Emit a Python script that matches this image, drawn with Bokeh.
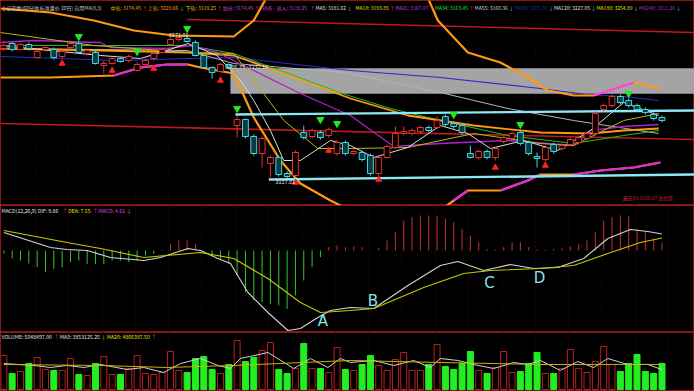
from bokeh.plotting import figure
from bokeh.layouts import column
from bokeh.models import Range1d, Label, ColumnDataSource, Span
from bokeh.embed import file_html
from bokeh.resources import INLINE
from bokeh.core.properties import value

FONT = "Noto Sans CJK SC"

# ---------------- price data (60-minute candles) ----------------
idx = list(range(80))
open_ = [3252,3257,3251,3256,3243,3251,3251,3244,3253,3257, 3247,3248,3235,3237,3242,3240,3230,3236,3242,3248,
         3256,3261,3262,3258,3245,3233,3229,3236,3175,3181, 3164,3147,3137,3143,3127,3125,3168,3164,3168,3165,
         3147,3158,3147,3148,3145,3127,3143,3153,3167,3167, 3169,3173,3173,3184,3177,3175,3147,3143,3149,3143,
         3159,3162,3168,3158,3144,3141,3156,3152,3156,3158, 3162,3167,3191,3195,3204,3200,3195,3191,3186,3183]
high = [3257,3258,3257,3258,3251,3255,3253,3251,3259,3259, 3251,3250,3240,3244,3243,3246,3238,3242,3249,3252,
        3263,3265,3265,3260,3246,3234,3238,3237,3184,3182, 3166,3164,3145,3144,3129,3150,3175,3172,3170,3173,
        3160,3160,3151,3150,3147,3145,3156,3174,3174,3172, 3175,3175,3184,3186,3179,3177,3155,3151,3151,3154,
        3165,3169,3170,3160,3148,3155,3158,3157,3163,3165, 3169,3189,3197,3206,3206,3202,3197,3193,3188,3185]
low = [3250,3249,3250,3250,3242,3249,3241,3242,3251,3247, 3245,3236,3227,3236,3238,3238,3229,3234,3240,3247,
       3255,3259,3258,3244,3232,3222,3228,3231,3163,3162, 3145,3133,3123,3124,3122,3123,3161,3162,3161,3163,
       3145,3145,3145,3139,3125,3124,3142,3152,3165,3165, 3167,3168,3171,3174,3172,3166,3142,3141,3141,3140,
       3157,3160,3155,3145,3133,3139,3147,3150,3154,3156, 3160,3165,3189,3193,3196,3193,3189,3186,3180,3178]
close = [3255,3251,3256,3252,3249,3253,3243,3249,3257,3248, 3250,3237,3237,3242,3239,3244,3236,3240,3247,3251,
         3261,3263,3259,3245,3233,3228,3236,3233,3181,3164, 3147,3162,3143,3126,3124,3148,3163,3170,3163,3171,
         3158,3147,3149,3141,3127,3143,3154,3167,3169,3170, 3173,3170,3180,3176,3174,3168,3143,3149,3143,3152,
         3163,3167,3157,3147,3142,3153,3149,3155,3161,3163, 3167,3187,3195,3204,3198,3195,3191,3188,3182,3180]

# Bands (at sample bars)
band_up_x = [-0.4, 5.6, 10.8, 15.6, 20.4, 27.6, 30.0, 32.0, 36.0, 48.0, 50.5, 52.1, 55.7, 59.6, 62.9, 65.3, 68.4, 70.8, 75.6, 78.8]
band_up = [3292, 3288, 3280, 3270, 3265, 3264, 3280, 3310, 3340, 3330, 3310, 3280, 3248, 3238, 3223, 3210, 3205, 3205, 3218, 3212]
band_dn_x = [-0.4, 5.6, 13.2, 16.4, 19.6, 22.1, 23.6, 27.6, 30.0, 33.2, 35.6, 39.2, 41.6, 47.5, 52.4, 54.0, 55.7, 59.6, 62.9, 64.4, 68.4, 71.6, 75.6, 78.8]
band_dn = [3223, 3223, 3225, 3233, 3236, 3236, 3233, 3227, 3183, 3140, 3117, 3100, 3090, 3075, 3090, 3100, 3110, 3110, 3120, 3126, 3126, 3130, 3133, 3138]
band_mid_x = [-0.4, 3.6, 11.6, 12.8, 19.6, 22.4, 25.6, 35.6, 41.6, 46.8, 52.4, 60.5, 68.4, 70.4, 74.4, 78.6]
band_mid = [3258, 3260, 3258, 3253, 3252, 3255, 3248, 3207, 3185, 3154, 3157, 3160, 3155, 3170, 3174, 3176]

# moving averages (sampled)
ma5_x = [-0.4, 5.6, 11.6, 16.4, 18.8, 22.1, 25.6, 28.4, 30.0, 32.0, 33.6, 35.6, 39.2, 41.6, 44.4, 48.5, 52.4, 55.7, 58.4, 62.4, 66.5, 70.4, 74.4, 78.6]
ma5 = [3255, 3250, 3245, 3242, 3248, 3257, 3245, 3220, 3200, 3170, 3140, 3140, 3160, 3155, 3143, 3153, 3175, 3167, 3152, 3160, 3150, 3170, 3198, 3185]
ma10_x = [-0.4, 10.8, 22.1, 27.6, 33.6, 37.7, 41.6, 48.5, 56.4, 64.4, 68.4, 74.4, 78.6]
ma10 = [3268, 3255, 3248, 3247, 3180, 3152, 3152, 3153, 3167, 3157, 3155, 3180, 3187]
ma21_x = [-0.4, 11.6, 22.1, 27.6, 33.6, 41.6, 48.5, 56.4, 64.4, 70.4, 74.4, 78.6]
ma21 = [3252, 3250, 3248, 3245, 3227, 3202, 3185, 3175, 3168, 3167, 3170, 3172]
ma34_x = [-0.4, 22.1, 27.6, 41.0, 46.4, 52.4, 60.5, 68.4, 74.4, 78.6]
ma34 = [3255, 3255, 3247, 3206, 3192, 3180, 3165, 3157, 3165, 3170]
ma55_x = [-0.4, 22.0, 27.6, 41.0, 52.4, 60.5, 68.4, 78.6]
ma55 = [3252, 3250, 3237, 3228, 3208, 3192, 3180, 3167]
ma89_x = [-0.4, 13.6, 22.1, 27.6, 41.6, 52.4, 64.4, 70.0, 74.4, 78.6]
ma89 = [3244, 3240, 3242, 3243, 3230, 3223, 3212, 3206, 3204, 3200]

# drawn support / resistance lines and gap zone
res_top_x = [22.0, 82.9]; res_top = [3281, 3268]
res_mid_x = [-0.4, 82.9]; res_mid = [3177, 3161]
sup_hi_x = [27.8, 82.9]; sup_hi = [3186, 3190]
sup_lo_x = [31.8, 82.9]; sup_lo = [3121, 3126]
gap_left, gap_right, gap_low, gap_high = 27.2, 82.9, 3206.85, 3232.16

# signals
sell_idx = [9, 16, 22, 28, 38, 40, 54, 62, 75]
sell_px = [3264, 3249, 3272, 3192, 3181, 3177, 3186, 3176, 3207]
buy_idx = [7, 13, 18, 26, 35, 39, 45, 59, 65]
buy_px = [3237, 3230, 3232, 3220, 3118, 3150, 3121, 3133, 3135]

# ---------------- MACD ----------------
macd_hist = [-1.8,-4.8,-6,-7.8,-10,-13,-11,-10,-7,-6,-8,-8,-8,-6,-6,-7,-6,-3,-2,-0.2,
             4,6,6,4,0.2,-3,-5,-8,-15,-25,-30,-31,-32,-33,-35,-27,-18,-10,-4,2,
             3,2,2.4,2,0.2,1.4,6,11,18,20,21,21,20.5,19,17,13,9,5,1,0.6,
             2,5,5,2,0.6,0.6,1,1.2,2.4,4,6,11,18,20,21,20.5,13,11,7,4.61]
dif_x = [0, 5.6, 7.6, 10, 12.8, 16.8, 18.8, 22.1, 23.6, 25.7, 27.2, 29.3, 31.7, 34.1, 35.6, 37.7, 39.2, 41.6, 44.4, 48.5, 52.4, 54.5, 57.6, 60.8, 63.6, 66.5, 69.6, 72.5, 75.2, 77.3, 79]
dif = [10.8, 1.8, 0.6, 0, -4.2, -6, -4.2, 1.2, 0, -4.8, -7.8, -25.2, -37.2, -48, -46.8, -40.2, -36, -34.2, -34.8, -21, -9, -6.6, -12, -8.4, -10.8, -10.2, -4.8, 7.2, 12.6, 11.4, 9.86]
dea_x = [0, 7.6, 11.6, 16.8, 23.6, 27.6, 31.7, 35.6, 38, 41.6, 44.4, 50.4, 55.2, 58.4, 64.4, 68.4, 72.5, 76.4, 79]
dea = [12, 4.8, 1.2, -4.2, -1.2, -4.8, -16.8, -31.2, -37.2, -36, -34.8, -22.2, -13.8, -12, -10.8, -9, -1.8, 4.8, 7.55]
mark_txt = ["A", "B", "C", "D"]
mark_x = [38.3, 44.3, 58.3, 64.3]
mark_v = [-42, -30, -19.2, -16.2]

# ---------------- volume (millions) ----------------
vol = [6.60,3.10,3.49,5.04,6.21,3.88,3.69,3.69,6.01,2.91, 2.72,5.04,6.40,2.91,2.91,4.07,6.60,3.10,2.91,3.30,
       7.37,3.69,3.30,6.01,6.40,3.88,3.10,4.85,9.51,5.43, 6.21,7.57,9.12,3.88,3.10,4.07,8.92,4.07,4.07,3.30,
       8.15,3.88,3.69,4.85,6.60,4.66,3.69,5.82,7.18,3.69, 3.69,4.85,8.73,4.46,3.88,5.04,7.37,3.69,3.10,4.27,
       7.37,3.30,3.49,5.04,7.18,3.10,3.10,4.07,7.76,4.07, 3.30,5.43,8.34,4.85,3.49,5.04,6.79,3.49,3.10,5.05]
vma3_x = [0, 3.6, 5.6, 7.6, 9.6, 11.6, 14.8, 16.8, 19.2, 21.2, 23.6, 25.7, 27.2, 28.4, 31.7, 34.8, 36.8, 38.9, 40.4, 41.6, 44.4, 46.8, 49.2, 51.2, 52.4, 54.5, 56.4, 58.8, 61.2, 62.9, 64.4, 66.8, 68.9, 70.8, 72.5, 74.9, 77.3, 79]
vma3 = [5.04, 4.66, 4.27, 4.66, 4.27, 4.85, 3.88, 4.27, 3.30, 5.04, 6.01, 4.66, 4.07, 6.01, 7.18, 4.07, 6.01, 4.27, 6.01, 5.24, 5.63, 4.66, 5.63, 4.27, 6.01, 5.63, 4.85, 4.07, 5.24, 4.85, 5.63, 3.69, 5.43, 4.27, 6.01, 4.85, 4.85, 3.85]
vma20_x = [0, 11.6, 19.6, 27.6, 41.6, 52.4, 64.4, 79]
vma20 = [4.85, 4.66, 4.27, 4.66, 5.63, 5.24, 4.85, 4.87]

# ---------------- header texts ----------------
main_header = [
    (1, "上证指数(60分钟 标准量价 20日) 自用MA(0,3)", "#c8c8c8", ""),
    (110, "中轨: 3174.45", "#e8a800", "↑"),
    (147, "上轨: 3229.66", "#ff9900", "↓"),
    (185, "下轨: 3119.25", "#e0c000", "↑"),
    (222, "加仓: 3174.45", "#d040d0", "↑"),
    (262, "持有 - 高入: 3119.25", "#d040d0", "↑"),
    (315, "MA5: 3181.62", "#e0e0e0", "↓"),
    (355, "MA10: 3193.85", "#e0e000", "↑"),
    (393, "MA21: 3167.07", "#b040e0", "↑"),
    (433, "MA34: 3163.45", "#20e020", "↑"),
    (472, "MA55: 3160.36", "#d0d0d0", "↓"),
    (510, "MA89: 3205.31", "#2828b0", "↓"),
    (551, "MA120: 3227.05", "#e0e0e0", "↓"),
    (593, "MA180: 3254.89", "#e0e000", "↓"),
    (632, "MA240: 3311.20", "#a030c0", "↓"),
]
macd_header = [
    (1, "MACD(12,26,9) DIF: 9.86", "#e0e0e0", "↑"),
    (62, "DEA: 7.55", "#e0e000", "↑"),
    (95, "MACD: 4.61", "#e040e0", "↓"),
]
vol_header = [
    (1, "VOLUME: 5048497.00", "#e0e0e0", "↑"),
    (58, "MA3: 3853125.25", "#e0e0e0", "↓"),
    (104, "MA20: 4866387.50", "#e0e000", "↑"),
]


def tw(s, fs):
    w = 0.0
    for ch in s:
        if ord(ch) > 0x2e80:
            w += fs
        elif ch in ".:,;()| ":
            w += fs * 0.3
        elif ch.isdigit():
            w += fs * 0.56
        elif ch.isupper():
            w += fs * 0.68
        else:
            w += fs * 0.52
    return w


xr = Range1d(-0.4, 82.9)


def panel(h, y0, y1, grid_col):
    p = figure(width=694, height=h, x_range=xr, y_range=Range1d(y0, y1),
               output_backend="svg", toolbar_location=None,
               x_axis_location=None, y_axis_location=None,
               min_border=0, min_border_left=0, min_border_right=0,
               min_border_top=0, min_border_bottom=0)
    p.grid.visible = False
    p.background_fill_color = "#000000"
    p.border_fill_color = "#000000"
    p.outline_line_color = "#8a1515"
    p.outline_line_width = 1
    for k in range(20):
        p.add_layout(Span(location=3.8 + 4 * k, dimension="height", level="underlay",
                          line_color=grid_col, line_dash="1 2", line_width=1))
    return p


def header(p, h, ytop, items, fs=5.0):
    y = h - ytop
    prev_end = -10
    for x, txt, col, arrow in items:
        x = max(x, prev_end + 2.5)
        p.add_layout(Label(x=x, y=y, x_units="screen", y_units="screen", text=txt,
                           text_color=col, text_font=FONT, text_font_size=f"{fs}px",
                           text_baseline="middle"))
        end = x + tw(txt, fs)
        if arrow:
            p.add_layout(Label(x=end + 0.5, y=y, x_units="screen", y_units="screen",
                               text=arrow, text_color="#ff3030" if arrow == "↑" else "#30e030",
                               text_font=FONT, text_font_size=f"{fs}px", text_baseline="middle"))
            end += fs * 0.7
        prev_end = end


up = [c >= o for o, c in zip(open_, close)]
src = ColumnDataSource(dict(
    x=idx, high=high, low=low,
    top=[max(o, c) for o, c in zip(open_, close)],
    bot=[min(o, c) for o, c in zip(open_, close)],
    line=["#e83030" if u else "#40d8e0" for u in up],
    fill=["#000000" if u else "#0c3a40" for u in up],
    vol=vol,
    vline=["#b82020" if u else "#22ee22" for u in up],
    vfill=["#000000" if u else "#22ee22" for u in up],
))

# ---------------- main panel ----------------
H1 = 205
p1 = panel(H1, 3095, 3300, "#2a0606")
p1.quad(left=[gap_left], right=[gap_right], bottom=[gap_low], top=[gap_high],
        fill_color="#a4a4a4", line_color=None)
p1.line(res_top_x, res_top, line_color="#c01818", line_width=1.6)
p1.line(res_mid_x, res_mid, line_color="#c01818", line_width=1.6)
p1.line(ma89_x, ma89, line_color="#2a2ad0", line_width=1.2)
p1.line(ma55_x, ma55, line_color="#b4b4b4", line_width=1.0)
p1.line(ma34_x, ma34, line_color="#20c020", line_width=1.0)
p1.line(ma21_x, ma21, line_color="#ff9a10", line_width=1.8)
p1.line(band_mid_x, band_mid, line_color="#b020c8", line_width=1.3)
p1.line(ma10_x, ma10, line_color="#b8b420", line_width=1.0)
p1.line(ma5_x, ma5, line_color="#dcdcdc", line_width=1.0)


def two_tone(p, xs, ys, spans, base, hi, w):
    p.line(xs, ys, line_color=base, line_width=w)
    for a, b in spans:
        p.line(xs[a:b + 1], ys[a:b + 1], line_color=hi, line_width=w)


two_tone(p1, band_up_x, band_up, [(17, 18)], "#ff9a10", "#ff3cf0", 2.2)
two_tone(p1, band_dn_x, band_dn, [(2, 5), (15, 16), (17, 19), (20, 23)], "#ff9a10", "#e028e0", 2.2)

p1.line(sup_hi_x, sup_hi, line_color="#8ce8f4", line_width=2.4)
p1.line(sup_lo_x, sup_lo, line_color="#8ce8f4", line_width=2.4)

p1.segment(x0="x", y0="high", x1="x", y1="low", line_color="line", line_width=1, source=src)
p1.vbar(x="x", top="top", bottom="bot", width=0.7, fill_color="fill", line_color="line",
        line_width=1, source=src)

p1.scatter(sell_idx, sell_px, marker="inverted_triangle", size=7, color="#22e822")
p1.scatter(buy_idx, buy_px, marker="triangle", size=6, color="#ff2020")

p1.text(x=[26.6], y=[3234], text=["3206.85~3232.16"], text_color="#e8e8e8",
        text_font=value(FONT), text_font_size="5.5px", text_baseline="middle")
p1.text(x=[19.8], y=[3266], text=["3271.01"], text_color="#e8e8e8",
        text_font=value(FONT), text_font_size="5.5px", text_baseline="middle")
p1.text(x=[32.6], y=[3119], text=["3117.61"], text_color="#e8e8e8",
        text_font=value(FONT), text_font_size="5.5px", text_baseline="middle")
p1.text(x=[74.3], y=[3103], text=["最近DI:3180.07 高位区"], text_color="#d02020",
        text_font=value(FONT), text_font_size="5px", text_baseline="middle")
header(p1, H1, 7, main_header, fs=5.0)

# ---------------- MACD panel ----------------
H2 = 127
p2 = panel(H2, -49.2, 27, "#3a0808")
p2.segment(x0=idx, y0=[0] * 80, x1=idx, y1=macd_hist,
           line_color=["#c83232" if v >= 0 else "#2ec82e" for v in macd_hist], line_width=1)
p2.line(dif_x, dif, line_color="#d4d4d4", line_width=1.1)
p2.line(dea_x, dea, line_color="#c8c800", line_width=1.1)
p2.text(x=mark_x, y=mark_v, text=mark_txt, text_color="#86e4ee",
        text_font=value("DejaVu Sans"), text_font_size="15px",
        text_align="center", text_baseline="middle")
header(p2, H2, 5, macd_header, fs=5.2)

# ---------------- volume panel ----------------
H3 = 59
p3 = panel(H3, -0.388, 11.058, "#3a0808")
p3.vbar(x="x", top="vol", bottom=0, width=0.72, fill_color="vfill", line_color="vline",
        line_width=1, source=src)
p3.line(vma3_x, vma3, line_color="#d0d0d0", line_width=1)
p3.line(vma20_x, vma20, line_color="#c8b400", line_width=1)
header(p3, H3, 4, vol_header, fs=5.2)

layout = column(p1, p2, p3, spacing=0)
open("out.html", "w").write(file_html(layout, INLINE))
